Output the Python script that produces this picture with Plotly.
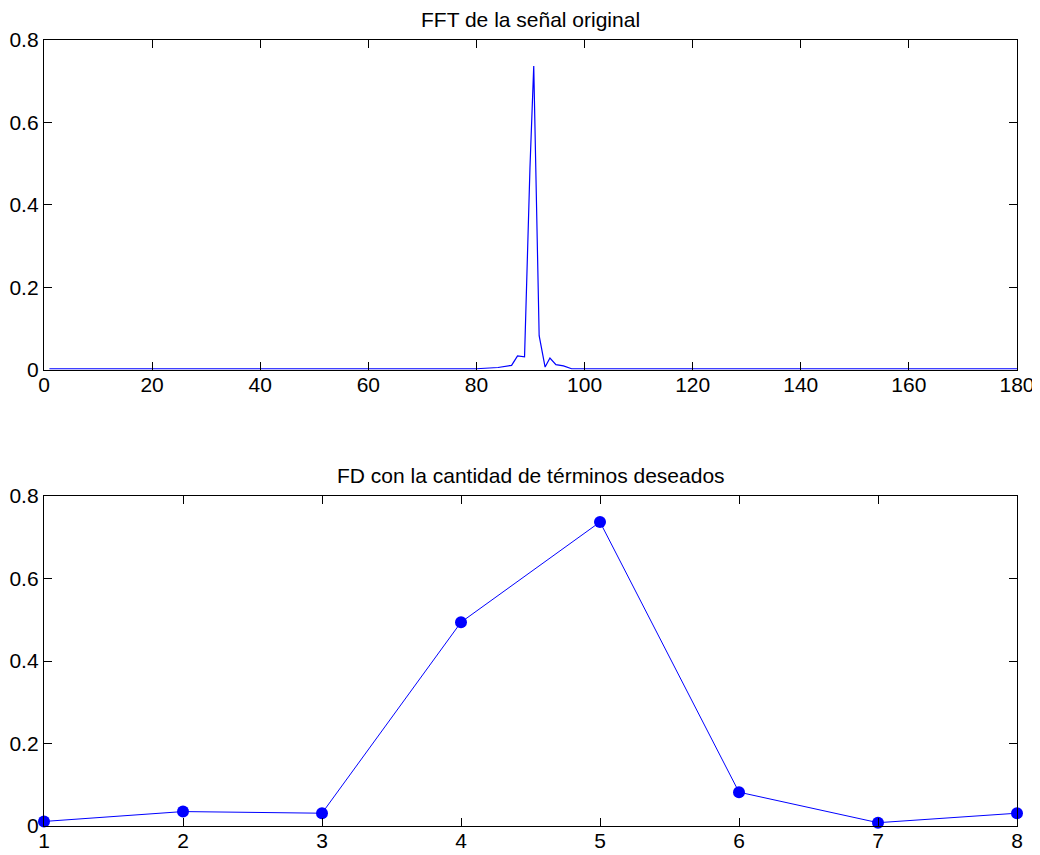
import plotly.graph_objects as go

# Top panel: FFT magnitude (vertices)
fft_x = [1, 80, 84.0, 86.5, 87.6, 88.9, 89.9, 90.6, 91.6, 92.7, 93.6, 94.7, 96.1, 97.6, 180]
fft_y = [0.003, 0.003, 0.006, 0.011, 0.034, 0.032, 0.49, 0.737, 0.083, 0.007, 0.029, 0.013, 0.01, 0.003, 0.003]

# Bottom panel: selected terms
term_x = [1, 2, 3, 4, 5, 6, 7, 8]
term_y = [0.011, 0.035, 0.031, 0.494, 0.737, 0.082, 0.008, 0.031]

top_xticks = [0, 20, 40, 60, 80, 100, 120, 140, 160, 180]
y_ticks = [0, 0.2, 0.4, 0.6, 0.8]
y_ticktext = ["0", "0.2", "0.4", "0.6", "0.8"]
bot_xticks = [1, 2, 3, 4, 5, 6, 7, 8]

title_top = "FFT de la señal original"
title_bot = "FD con la cantidad de términos deseados"

FONT = "Liberation Sans, Arial, Helvetica, sans-serif"

fig = go.Figure()
fig.add_trace(go.Scatter(x=fft_x, y=fft_y, mode="lines",
                         line=dict(color="#0000FF", width=1.2),
                         xaxis="x", yaxis="y", showlegend=False))
fig.add_trace(go.Scatter(x=term_x, y=term_y, mode="lines+markers",
                         line=dict(color="#0000FF", width=1),
                         marker=dict(color="#0000FF", size=12),
                         xaxis="x2", yaxis="y2", showlegend=False, cliponaxis=False))

axis_common = dict(showline=True, linecolor="black", linewidth=1.3, mirror="ticks",
                   ticks="inside", ticklen=8, tickcolor="black", tickwidth=1,
                   showgrid=False, zeroline=False, automargin=False,
                   tickfont=dict(family=FONT, size=21, color="black"))

top_dom = [0.5802, 1.0]
bot_dom = [0.0, 0.4198]

fig.update_layout(
    width=1032, height=847,
    margin=dict(l=36, r=23, t=32, b=29),
    paper_bgcolor="white", plot_bgcolor="white",
    xaxis=dict(domain=[0, 1], anchor="y", range=[0, 180], tickvals=top_xticks,
               ticklabelstandoff=-4, **axis_common),
    yaxis=dict(domain=top_dom, anchor="x", range=[0, 0.8], tickvals=y_ticks, ticktext=y_ticktext, **axis_common),
    xaxis2=dict(domain=[0, 1], anchor="y2", range=[1, 8], tickvals=bot_xticks,
                ticklabelstandoff=-4, **axis_common),
    yaxis2=dict(domain=bot_dom, anchor="x2", range=[0, 0.8], tickvals=y_ticks, ticktext=y_ticktext, **axis_common),
    annotations=[
        dict(text=title_top, xref="x domain", yref="y domain", x=0.5, y=1, xanchor="center",
             yanchor="bottom", yshift=7, showarrow=False, font=dict(family=FONT, size=21, color="black")),
        dict(text=title_bot, xref="x2 domain", yref="y2 domain", x=0.5, y=1, xanchor="center",
             yanchor="bottom", yshift=7, showarrow=False, font=dict(family=FONT, size=21, color="black")),
    ],
)

fig.write_html("out.html")
